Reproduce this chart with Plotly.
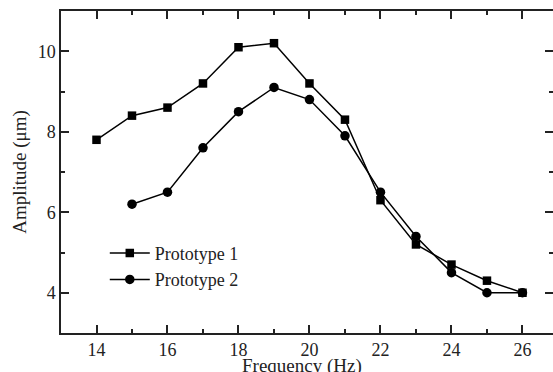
import plotly.graph_objects as go

freq1 = [14, 15, 16, 17, 18, 19, 20, 21, 22, 23, 24, 25, 26]
amp1 = [7.8, 8.4, 8.6, 9.2, 10.1, 10.2, 9.2, 8.3, 6.3, 5.2, 4.7, 4.3, 4.0]
freq2 = [15, 16, 17, 18, 19, 20, 21, 22, 23, 24, 25, 26]
amp2 = [6.2, 6.5, 7.6, 8.5, 9.1, 8.8, 7.9, 6.5, 5.4, 4.5, 4.0, 4.0]
names = ["Prototype 1", "Prototype 2"]
x_range = [13, 26.86]
y_range = [3, 11]
x_ticks = [14, 16, 18, 20, 22, 24, 26]
y_ticks = [4, 6, 8, 10]

FONT = "Liberation Serif"
AX = "#222222"

fig = go.Figure()
fig.add_trace(go.Scatter(x=freq1, y=amp1, name=names[0], mode="lines+markers",
                         line=dict(color="black", width=1.5),
                         marker=dict(symbol="square", size=8.5, color="black")))
fig.add_trace(go.Scatter(x=freq2, y=amp2, name=names[1], mode="lines+markers",
                         line=dict(color="black", width=1.5),
                         marker=dict(symbol="circle", size=9.5, color="black")))
# invisible helper trace so the right-hand tick axis is drawn
fig.add_trace(go.Scatter(x=freq2[:1], y=amp2[:1], yaxis="y2", mode="markers",
                         marker=dict(opacity=0), showlegend=False, hoverinfo="skip"))

fig.update_layout(
    width=553, height=372,
    margin=dict(l=61, r=0, t=11, b=39),
    paper_bgcolor="white", plot_bgcolor="white",
    font=dict(family=FONT, size=18, color="#222222"),
    showlegend=True,
    legend=dict(x=0.089, y=0.305, xanchor="left", yanchor="top", itemwidth=40,
                bgcolor="rgba(0,0,0,0)", font=dict(family=FONT, size=18), tracegroupgap=0),
    xaxis=dict(range=x_range, tickvals=x_ticks, showgrid=False, zeroline=False,
               showline=True, linecolor=AX, linewidth=1.5, mirror="ticks",
               ticks="inside", ticklen=8, tickwidth=1.5, tickcolor=AX,
               tickfont=dict(family=FONT, size=18),
               minor=dict(ticks="inside", ticklen=4, dtick=1, tick0=13, tickwidth=1.5, tickcolor=AX, showgrid=False),
               automargin=False),
    yaxis=dict(range=y_range, tickvals=y_ticks, showgrid=False, zeroline=False,
               showline=True, linecolor=AX, linewidth=1.5,
               ticks="inside", ticklen=8, tickwidth=1.5, tickcolor=AX,
               tickfont=dict(family=FONT, size=18),
               minor=dict(ticks="inside", ticklen=4, dtick=1, tick0=3, tickwidth=1.5, tickcolor=AX, showgrid=False),
               title=dict(text="Amplitude (μm)", standoff=6, font=dict(family=FONT, size=19)),
               automargin=False),
    yaxis2=dict(range=y_range, tickvals=y_ticks, overlaying="y", side="right",
                showgrid=False, zeroline=False, showline=False, showticklabels=False,
                ticks="inside", ticklen=8, tickwidth=1.5, tickcolor=AX,
                minor=dict(ticks="inside", ticklen=4, dtick=1, tick0=3, tickwidth=1.5, tickcolor=AX, showgrid=False)),
    annotations=[dict(text="Frequency (Hz)", xref="paper", yref="paper", x=0.49, y=-0.103,
                      xanchor="center", yanchor="middle", showarrow=False,
                      font=dict(family=FONT, size=19))],
)

fig.write_html("out.html")
